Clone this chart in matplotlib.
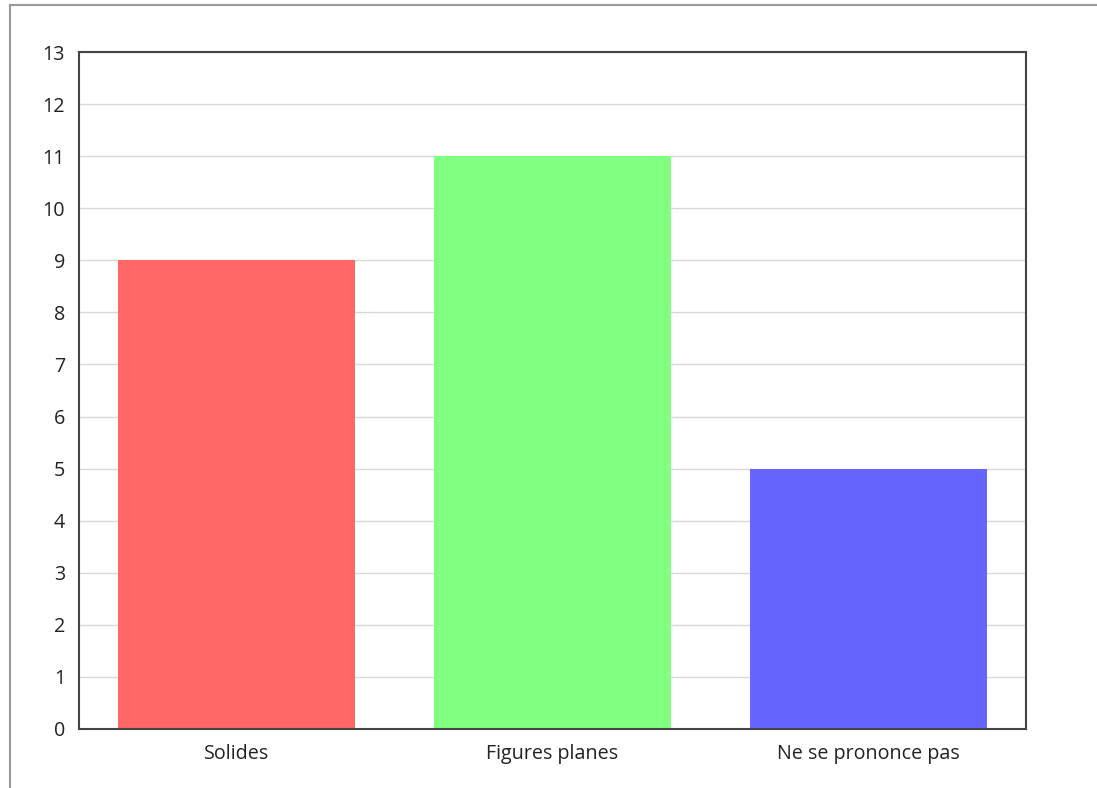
import matplotlib.pyplot as plt
from matplotlib.lines import Line2D

# donnees du graphique
categories = ["Solides", "Figures planes", "Ne se prononce pas"]
valeurs = [9, 11, 5]
couleurs = ["#ff6666", "#80ff80", "#6666ff"]

plt.rcParams['font.family'] = ['Open Sans', 'DejaVu Sans']

fig = plt.figure(figsize=(10.97, 7.88), dpi=100)
ax = fig.add_axes([79/1097, 1 - 729/788, (1026-79)/1097, (729-52)/788])

x = range(len(categories))
ax.bar(x, valeurs, width=0.75, color=couleurs, zorder=2)

ax.set_xlim(-0.5, 2.5)
ax.set_ylim(0, 13)
ax.set_yticks(range(0, 14))
ax.set_xticks(list(x))
ax.set_xticklabels(categories)
ax.tick_params(axis='both', length=0, labelsize=14.2, colors='#222222')
ax.tick_params(axis='y', pad=10)
ax.tick_params(axis='x', pad=11)
ax.grid(axis='y', color='#d9d9d9', linewidth=1, zorder=0)
for s in ax.spines.values():
    s.set_color('#444444')
    s.set_linewidth(1.5)

# cadre gris en haut et a gauche
fig.add_artist(Line2D([10/1097, 1], [1 - 5/788, 1 - 5/788], color='#999999', linewidth=1.5))
fig.add_artist(Line2D([10/1097, 10/1097], [0, 1 - 5/788], color='#999999', linewidth=1.5))

fig.savefig("out.png", dpi=100)
